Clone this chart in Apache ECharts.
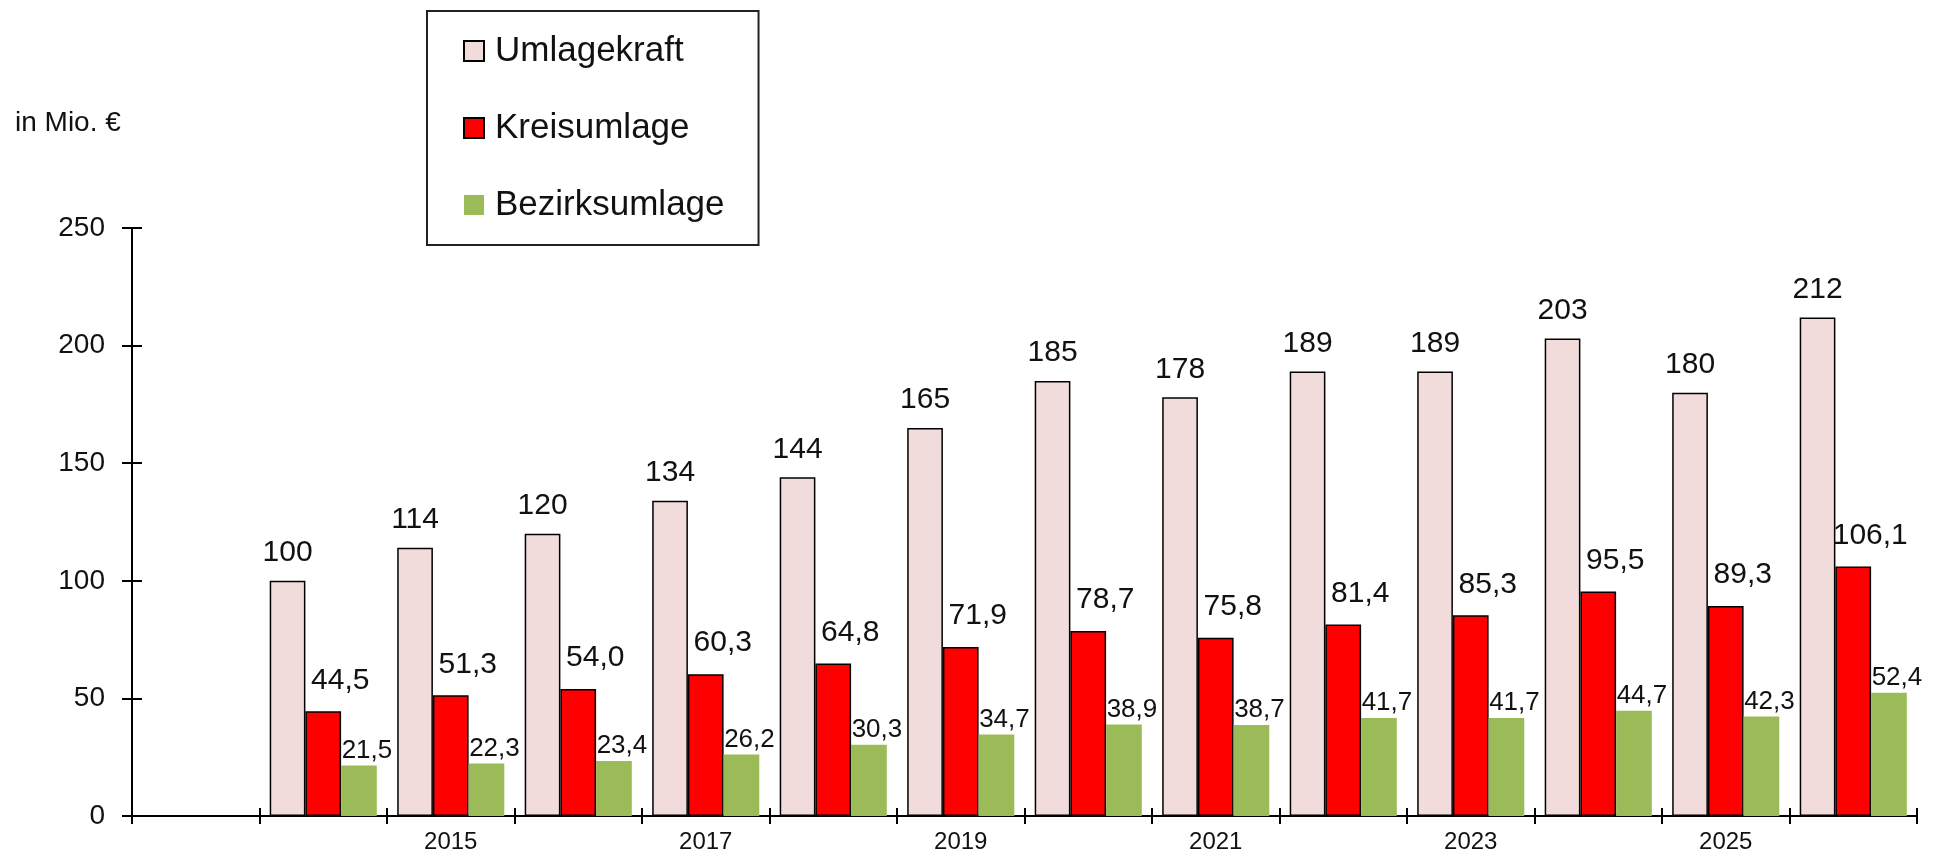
<!DOCTYPE html>
<html>
<head>
<meta charset="utf-8">
<title>Umlagekraft</title>
<script src="https://cdn.jsdelivr.net/npm/echarts@6/dist/echarts.min.js"></script>
<style>
  html, body { margin: 0; padding: 0; background: #fff; }
  #chart { width: 1933px; height: 856px; }
</style>
</head>
<body>
<div id="chart"></div>
<script>
// first slot on the axis is empty in the original
const years = ['', '2014', '2015', '2016', '2017', '2018', '2019', '2020', '2021', '2022', '2023', '2024', '2025', '2026'];
const umlagekraft = [100, 114, 120, 134, 144, 165, 185, 178, 189, 189, 203, 180, 212];
const kreisumlage = [44.5, 51.3, 54.0, 60.3, 64.8, 71.9, 78.7, 75.8, 81.4, 85.3, 95.5, 89.3, 106.1];
const bezirksumlage = [21.5, 22.3, 23.4, 26.2, 30.3, 34.7, 38.9, 38.7, 41.7, 41.7, 44.7, 42.3, 52.4];

const FONT = "'Liberation Sans', Arial, sans-serif";
const TXT = '#111';

let chart = echarts.init(document.getElementById('chart'));

function comma(v) {
  return v.toFixed(1).replace('.', ',');
}

let options = {
  animation: false,
  backgroundColor: '#fff',
  title: {
    text: 'in Mio. €',
    left: 10,
    top: 104,
    textStyle: { fontFamily: FONT, fontSize: 28, fontWeight: 'normal', color: TXT }
  },
  legend: {
    orient: 'vertical',
    left: 427,
    top: 11,
    padding: [22, 34, 22, 36],
    itemGap: 41,
    itemWidth: 20,
    itemHeight: 20,
    icon: 'rect',
    selectedMode: false,
    borderColor: '#222',
    borderWidth: 2,
    backgroundColor: '#fff',
    textStyle: { fontFamily: FONT, fontSize: 35, color: TXT, lineHeight: 36, padding: [0, 0, 0, 6] },
    data: ['Umlagekraft', 'Kreisumlage', 'Bezirksumlage']
  },
  grid: { left: 132, right: 16, top: 228, bottom: 40, containLabel: false },
  xAxis: [
    {
      type: 'category',
      data: years,
      boundaryGap: true,
      axisLine: { show: true, lineStyle: { color: '#000', width: 2 } },
      axisTick: { show: true, interval: 0, length: 8, lineStyle: { color: '#000', width: 2 } },
      axisLabel: { interval: 1, margin: 14, fontFamily: FONT, fontSize: 24, color: TXT },
      splitLine: { show: false }
    },
    {
      type: 'category',
      data: years,
      position: 'bottom',
      boundaryGap: true,
      axisLine: { show: false },
      axisTick: { show: true, inside: true, interval: 0, length: 8, lineStyle: { color: '#000', width: 2 } },
      axisLabel: { show: false },
      splitLine: { show: false }
    }
  ],
  yAxis: [
    {
      type: 'value',
      min: 0,
      max: 250,
      interval: 50,
      axisLine: { show: true, lineStyle: { color: '#000', width: 2 } },
      axisTick: { show: true, length: 10, lineStyle: { color: '#000', width: 2 } },
      axisLabel: { margin: 27, fontFamily: FONT, fontSize: 28, color: TXT },
      splitLine: { show: false }
    },
    {
      type: 'value',
      position: 'left',
      min: 0,
      max: 250,
      interval: 50,
      axisLine: { show: false },
      axisTick: { show: true, inside: true, length: 10, lineStyle: { color: '#000', width: 2 } },
      axisLabel: { show: false },
      splitLine: { show: false }
    }
  ],
  series: [
    {
      name: 'Umlagekraft',
      type: 'bar',
      data: [null].concat(umlagekraft),
      barGap: '0%',
      barCategoryGap: '16%',
      itemStyle: { color: '#F2DCDB', borderColor: '#000', borderWidth: 1.5 },
      label: {
        show: true, position: 'top', distance: 13,
        fontFamily: FONT, fontSize: 30, color: TXT,
        formatter: (p) => String(p.value)
      }
    },
    {
      name: 'Kreisumlage',
      type: 'bar',
      data: [null].concat(kreisumlage),
      barGap: '0%',
      barCategoryGap: '16%',
      itemStyle: { color: '#FF0000', borderColor: '#000', borderWidth: 1.5 },
      label: {
        show: true, position: 'top', distance: 16, offset: [17, 0],
        fontFamily: FONT, fontSize: 30, color: TXT,
        formatter: (p) => comma(p.value)
      }
    },
    {
      name: 'Bezirksumlage',
      type: 'bar',
      data: [null].concat(bezirksumlage),
      barGap: '0%',
      barCategoryGap: '16%',
      itemStyle: { color: '#9BBB59', borderWidth: 0 },
      label: {
        show: true, position: 'top', distance: 2, offset: [8, 0],
        fontFamily: FONT, fontSize: 26, color: TXT,
        formatter: (p) => comma(p.value)
      }
    }
  ]
};

chart.setOption(options);
</script>
</body>
</html>
